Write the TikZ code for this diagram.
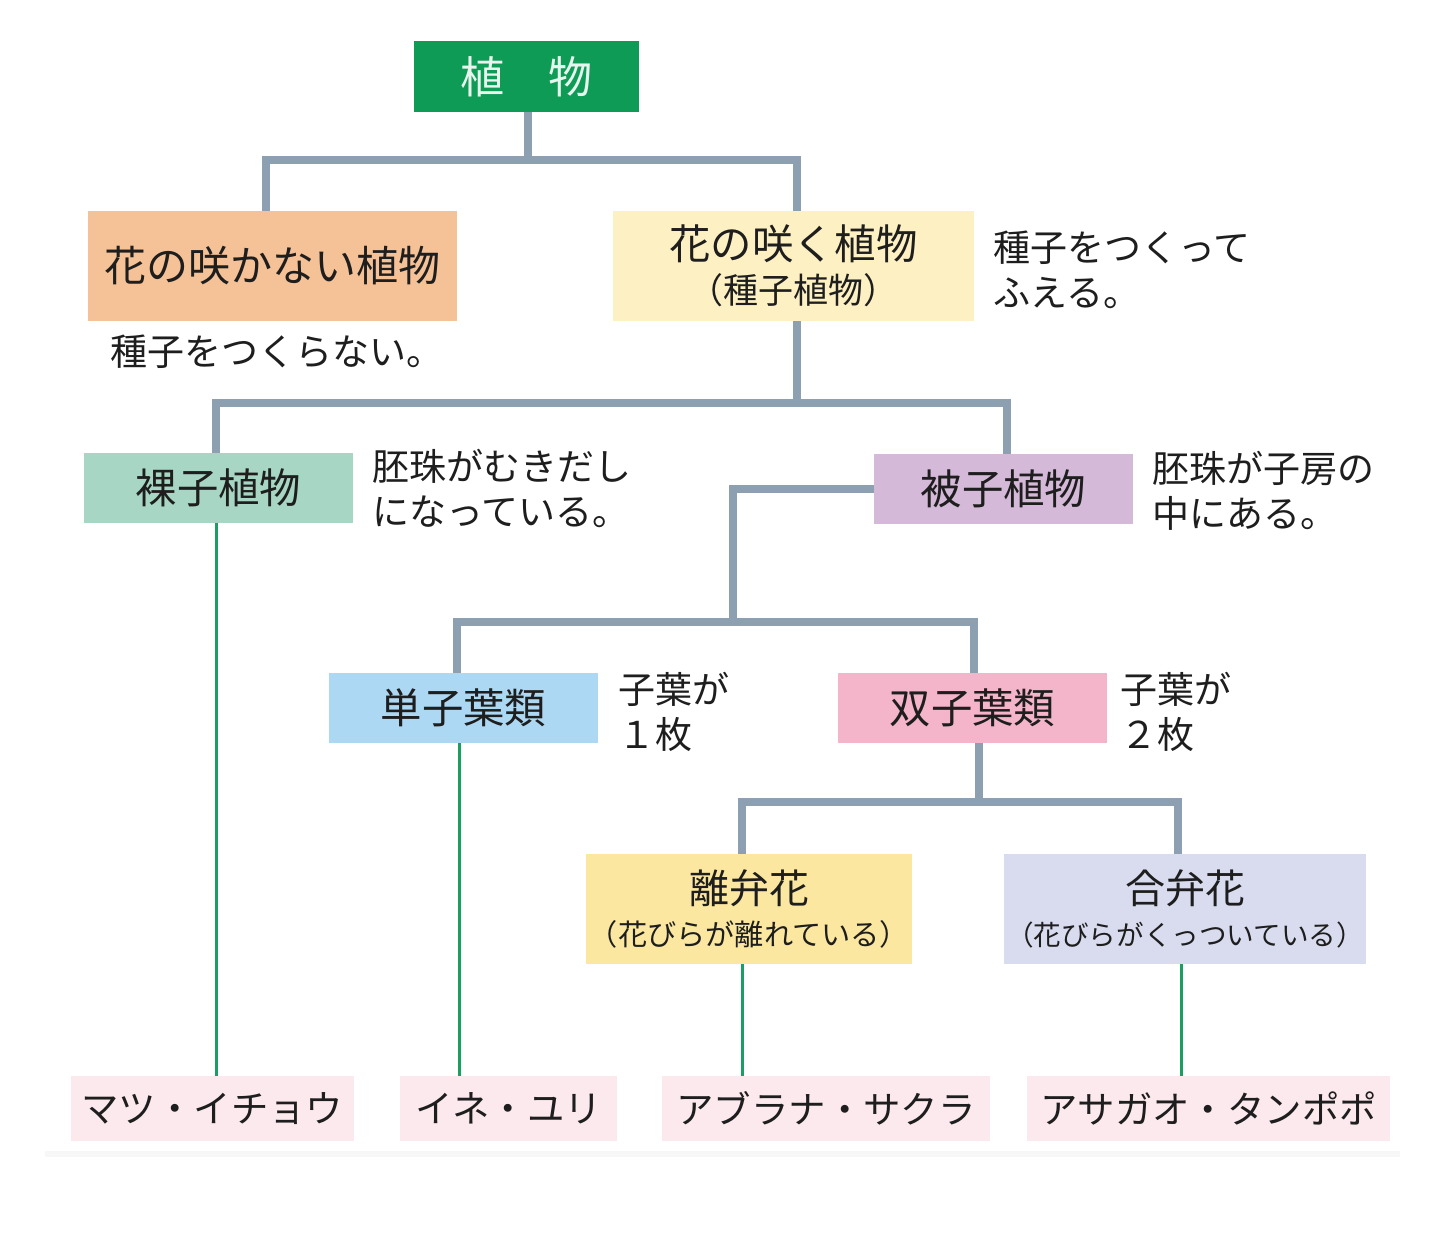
\documentclass[tikz,border=0pt]{standalone}
\usepackage{fontspec}
\setmainfont{Noto Sans CJK JP}
\definecolor{cgreen}{HTML}{0E9B55}
\definecolor{corange}{HTML}{F5C197}
\definecolor{ccream}{HTML}{FDF0C2}
\definecolor{cmint}{HTML}{A7D7C4}
\definecolor{cmauve}{HTML}{D5B9D8}
\definecolor{cblue}{HTML}{ACD8F3}
\definecolor{cpink}{HTML}{F4B4CA}
\definecolor{cyellow}{HTML}{FCE7A0}
\definecolor{clav}{HTML}{D8DCEE}
\definecolor{cleaf}{HTML}{FCE9EE}
\definecolor{cconn}{HTML}{8CA0B1}
\definecolor{cline}{HTML}{1A9E62}
\definecolor{ctext}{HTML}{1E1E1E}
\begin{document}
\begin{tikzpicture}[x=0.5pt,y=-0.5pt,
  box/.style={rectangle,inner sep=0pt,text=ctext,align=center,font=\fontsize{20.7}{24}\selectfont},
  leaf/.style={rectangle,fill=cleaf,inner sep=0pt,minimum height=32.5pt,text=ctext,font=\fontsize{18.7}{22}\selectfont},
  note/.style={anchor=west,inner sep=0pt,align=left,text=ctext,font=\fontsize{18.5}{22.5}\selectfont},
  conn/.style={draw=cconn,line width=4pt},
  gline/.style={draw=cline,line width=1.5pt}]
\useasboundingbox (0,0) rectangle (1448,1238);
\fill[white] (0,0) rectangle (1448,1238);
\fill[black!3] (45,1151) rectangle (1400,1157);

% boxes
\node[box,fill=cgreen,text=white!90!cgreen,minimum width=112.5pt,minimum height=35.5pt,font=\fontsize{22}{24}\selectfont] (top) at (526.5,76.5) {植　物};
\node[box,fill=corange,minimum width=184.5pt,minimum height=55pt,font=\fontsize{21}{24}\selectfont] (nf) at (272.5,266) {花の咲かない植物};
\node[box,fill=ccream,minimum width=180.5pt,minimum height=55pt] (f) at (793.5,266) {花の咲く植物\\[-2pt]{\fontsize{17.5}{20}\selectfont （種子植物）}};
\node[box,fill=cmint,minimum width=134.5pt,minimum height=35pt] (gym) at (218.5,488) {裸子植物};
\node[box,fill=cmauve,minimum width=129.5pt,minimum height=35pt] (ang) at (1003.5,489) {被子植物};
\node[box,fill=cblue,minimum width=134.5pt,minimum height=35pt] (mono) at (463.5,708) {単子葉類};
\node[box,fill=cpink,minimum width=134.5pt,minimum height=35pt] (di) at (972.5,708) {双子葉類};
\node[box,fill=cyellow,minimum width=163pt,minimum height=55pt,font=\fontsize{20}{24}\selectfont] (ri) at (749,909) {離弁花\\[-3pt]{\fontsize{14.6}{17}\selectfont （花びらが離れている）}};
\node[box,fill=clav,minimum width=181pt,minimum height=55pt,font=\fontsize{20}{24}\selectfont] (go) at (1185,909) {合弁花\\[-3pt]{\fontsize{13.8}{17}\selectfont （花びらがくっついている）}};

% leaves
\node[leaf,minimum width=141.5pt] (matsu) at (212.5,1108.5) {マツ・イチョウ};
\node[leaf,minimum width=108.5pt] (ine) at (508.5,1108.5) {イネ・ユリ};
\node[leaf,minimum width=164pt] (abura) at (826,1108.5) {アブラナ・サクラ};
\node[leaf,minimum width=181.5pt] (asa) at (1208.5,1108.5) {アサガオ・タンポポ};

% notes
\node[note] (n1) at (110,352) {種子をつくらない。};
\node[note] (n2) at (993,269.5) {種子をつくって\\ふえる。};
\node[note] (n3) at (372,488.5) {胚珠がむきだし\\になっている。};
\node[note] (n4) at (1152,490.5) {胚珠が子房の\\中にある。};
\node[note] (n5) at (618,712) {子葉が\\１枚};
\node[note] (n6) at (1120,712) {子葉が\\２枚};

% junctions
\coordinate (j1) at (528,160);
\coordinate (j2) at (797,403);
\coordinate (j3) at (733,622);
\coordinate (j4) at (979,802);

% gray connectors
\draw[conn] ([xshift=0.75pt]top.south) -- (j1);
\draw[conn] ([xshift=-3.25pt]nf.north) |- (j1) -| ([xshift=1.75pt]f.north);
\draw[conn] ([xshift=1.75pt]f.south) -- (j2);
\draw[conn] ([xshift=-1.25pt]gym.north) |- (j2) -| ([xshift=1.75pt]ang.north);
\draw[conn] (ang.west) -| (j3);
\draw[conn] ([xshift=-3.25pt]mono.north) |- (j3) -| ([xshift=0.75pt]di.north);
\draw[conn] ([xshift=3.25pt]di.south) -- (j4);
\draw[conn] ([xshift=-3.5pt]ri.north) |- (j4) -| ([xshift=-3.5pt]go.north);

% green lines
\draw[gline] ([xshift=-1.25pt]gym.south) -- ([xshift=-1.25pt]gym.south |- matsu.north);
\draw[gline] ([xshift=-2.25pt]mono.south) -- ([xshift=-2.25pt]mono.south |- ine.north);
\draw[gline] ([xshift=-3.5pt]ri.south) -- ([xshift=-3.5pt]ri.south |- abura.north);
\draw[gline] ([xshift=-2pt]go.south) -- ([xshift=-2pt]go.south |- asa.north);
\end{tikzpicture}
\end{document}
